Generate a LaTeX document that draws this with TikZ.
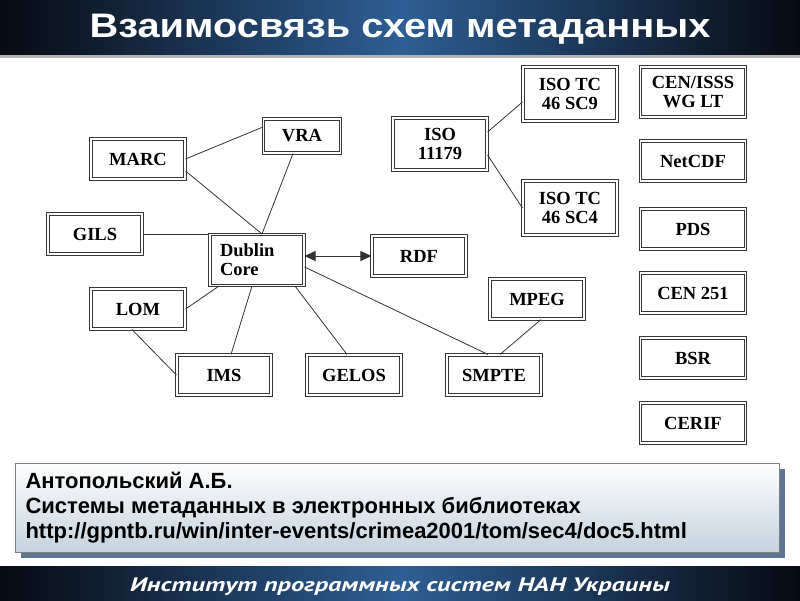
\documentclass[tikz,border=0pt]{standalone}
\usepackage{fontspec}
\setmainfont{Liberation Sans}
\newfontfamily\boxfont{Liberation Serif}
\newfontfamily\titlefont[FakeStretch=1.17]{Liberation Sans}
\newfontfamily\footfont[FakeStretch=1.35]{PT Sans}
\usepackage{xcolor}
\usetikzlibrary{arrows.meta}
\definecolor{hdblue}{RGB}{46,94,148}
\definecolor{hddark}{RGB}{6,10,18}
\definecolor{shadowblue}{RGB}{52,82,120}
\definecolor{refbottom}{RGB}{196,210,222}
\definecolor{framegray}{RGB}{55,55,55}

\begin{document}
\begin{tikzpicture}[x=1pt, y=-1pt,
  scheme/.style={draw=framegray, line width=1.1pt, double, double distance=1.5pt,
    fill=white, minimum width=94pt, minimum height=40pt, inner sep=2pt, align=center,
    font=\boxfont\bfseries\fontsize{18.5}{19}\selectfont},
  link/.style={draw=black!80, line width=0.8pt},
  refline/.style={anchor=base west, font=\bfseries\fontsize{22}{25}\selectfont}]
  \useasboundingbox (0,0) rectangle (800,600);

  % Header and footer bands
  \shade[left color=hddark, right color=hddark, middle color=hdblue] (0,0) rectangle (800,55);
  \fill[gray!60] (0,55) rectangle (800,58);
  \shade[left color=hddark, right color=hddark, middle color=hdblue] (0,566) rectangle (800,600);
  \node[anchor=base, text=white, font=\titlefont\bfseries\fontsize{34}{40}\selectfont] (title) at (400,37) {Взаимосвязь схем метаданных};
  \node[anchor=base, text=white, font=\footfont\bfseries\itshape\fontsize{19.5}{24}\selectfont] (footer) at (400,591) {Институт программных систем НАН Украины};

  % Left group
  \node[scheme] (marc) at (138,159) {MARC};
  \node[scheme, minimum width=77pt, minimum height=34pt] (vra) at (302,136) {VRA};
  \node[scheme] (gils) at (95,234) {GILS};
  \node[scheme, minimum height=51pt, text width=74pt, align=left] (dublin) at (257,260) {Dublin\\Core};
  \node[scheme] (rdf) at (419,256) {RDF};
  \node[scheme] (lom) at (138,309) {LOM};
  \node[scheme] (ims) at (224,375) {IMS};
  \node[scheme] (gelos) at (354,375) {GELOS};
  \node[scheme] (smpte) at (494,375) {SMPTE};
  \node[scheme] (mpeg) at (537,299) {MPEG};

  % ISO group
  \node[scheme, minimum height=52pt] (iso) at (440,144) {ISO\\11179};
  \node[scheme, minimum height=54pt] (scnine) at (570,94) {ISO TC\\46 SC9};
  \node[scheme, minimum height=54pt] (scfour) at (570,208) {ISO TC\\46 SC4};

  % Right column
  \node[scheme, minimum width=105pt, minimum height=50pt] (cenisss) at (693,92) {CEN/ISSS\\WG LT};
  \node[scheme, minimum width=105pt] (netcdf) at (693,161) {NetCDF};
  \node[scheme, minimum width=105pt] (pds) at (693,229) {PDS};
  \node[scheme, minimum width=105pt] (cen) at (693,293) {CEN 251};
  \node[scheme, minimum width=105pt] (bsr) at (693,358) {BSR};
  \node[scheme, minimum width=105pt] (cerif) at (693,423) {CERIF};

  % Links
  \draw[link] (marc.east) -- ([yshift=9pt]vra.west);
  \draw[link] ([yshift=-12pt]marc.east) -- ([xshift=5pt]dublin.north);
  \draw[link] ([xshift=-9pt]vra.south) -- ([xshift=5pt]dublin.north);
  \draw[link] (gils.east) -- (gils.east -| dublin.west);
  \draw[link, {Triangle[length=11pt,width=10pt]}-{Triangle[length=11pt,width=10pt]}] (rdf.west -| dublin.east) -- (rdf.west);
  \draw[link] ([yshift=-7pt]dublin.east) -- ([xshift=-6pt]smpte.north);
  \draw[link] ([xshift=-38pt]dublin.south) -- (lom.east);
  \draw[link] ([xshift=-5pt]dublin.south) -- ([xshift=7pt]ims.north);
  \draw[link] ([xshift=38pt]dublin.south) -- ([xshift=-7pt]gelos.north);
  \draw[link] ([xshift=-6pt]lom.south) -- (ims.west);
  \draw[link] ([xshift=4pt]mpeg.south) -- ([xshift=6pt]smpte.north);
  \draw[link] ([yshift=12pt]iso.east) -- ([yshift=-8pt]scnine.west);
  \draw[link] ([yshift=-11pt]iso.east) -- (scfour.west);

  % Reference box
  \fill[shadowblue, opacity=0.8] (21,469) rectangle (785,558);
  \shade[top color=white, bottom color=refbottom, draw=gray] (15,463) rectangle (779,552);
  \node[refline] (refauthor) at (22,488) {Антопольский А.Б.};
  \node[refline] (reftitle) at (22,513) {Системы метаданных в электронных библиотеках};
  \node[refline] (refurl) at (22,538) {http://gpntb.ru/win/inter-events/crimea2001/tom/sec4/doc5.html};
\end{tikzpicture}
\end{document}
